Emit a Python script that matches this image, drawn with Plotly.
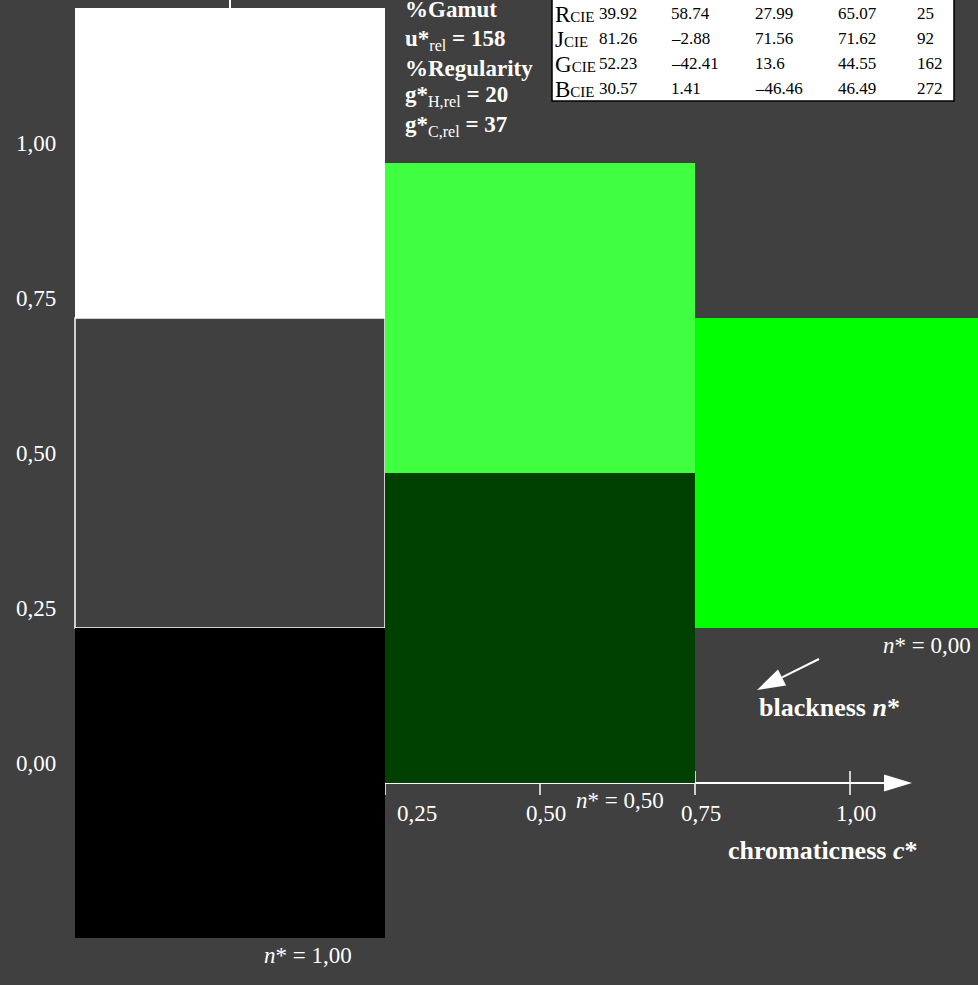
import plotly.graph_objects as go

# ---------------- data ----------------
# colour samples: chromaticness c*, vertical position, colour
cell_c = [0.0, 0.0, 0.0, 0.5, 0.5, 1.0]
cell_v = [1.0, 0.5, 0.0, 0.75, 0.25, 0.5]
cell_colors = ["#ffffff", "#404040", "#000000", "#40ff40", "#004000", "#00ff00"]
cell_size = 0.5

y_tick_vals = [0.0, 0.25, 0.5, 0.75, 1.0]
y_tick_text = ["0,00", "0,25", "0,50", "0,75", "1,00"]
x_tick_vals = [0.25, 0.5, 0.75, 1.0]
x_tick_text = ["0,25", "0,50", "0,75", "1,00"]

n_labels = ["<i>n</i>* = 1,00", "<i>n</i>* = 0,50", "<i>n</i>* = 0,00"]

table_rows = ["R", "J", "G", "B"]
table_L = [39.92, 81.26, 52.23, 30.57]
table_a = [58.74, -2.88, -42.41, 1.41]
table_b = [27.99, 71.56, 13.6, -46.46]
table_C = [65.07, 71.62, 44.55, 46.49]
table_h = [25, 92, 162, 272]

info_lines = [
    "<b>%Gamut</b>",
    "<b>u*</b><sub>rel</sub><b> = 158</b>",
    "<b>%Regularity</b>",
    "<b>g*</b><sub>H,rel</sub><b> = 20</b>",
    "<b>g*</b><sub>C,rel</sub><b> = 37</b>",
]

# ---------------- layout helpers ----------------
W, H = 978, 985
X0, Y0, S = 230.0, 783.0, 620.0  # pixel of origin and pixels per unit
BG = "#404040"
FONT = "Liberation Serif, Times New Roman, Times, serif"


def pc(px):
    return (px - X0) / S


def pv(py):
    return (Y0 - py) / S


def fmt(v):
    s = f"{v:g}"
    return s.replace("-", "\u2013")


fig = go.Figure()
fig.add_trace(go.Scatter(x=[None], y=[None], showlegend=False, hoverinfo="skip"))

shapes = []
# axes (below the colour cells)
shapes.append(dict(type="line", xref="x", yref="y", x0=0, x1=0, y0=-0.25, y1=pv(-20),
                   line=dict(color="white", width=2), layer="below"))
shapes.append(dict(type="line", xref="x", yref="y", x0=x_tick_vals[0], x1=pc(890), y0=0, y1=0,
                   line=dict(color="white", width=2), layer="below"))
for tv in x_tick_vals:
    shapes.append(dict(type="line", xref="x", yref="y", x0=tv, x1=tv, y0=pv(795), y1=pv(771),
                       line=dict(color="white", width=1.5), layer="below"))

# colour cells
for c, v, col in zip(cell_c, cell_v, cell_colors):
    outline = "white" if col.lower() == BG else col
    shapes.append(dict(type="rect", xref="x", yref="y",
                       x0=c - cell_size / 2, x1=c + cell_size / 2,
                       y0=v - cell_size / 2, y1=v + cell_size / 2,
                       fillcolor=col, line=dict(color=outline, width=1.5 if outline == "white" else 0),
                       layer="below"))

# axis arrowhead
tipx, tipy = 912, 783
shapes.append(dict(type="path", xref="x", yref="y",
                   path=f"M{pc(tipx)},{pv(tipy)} L{pc(tipx-28)},{pv(tipy-8.5)} L{pc(tipx-28)},{pv(tipy+8.5)} Z",
                   fillcolor="white", line=dict(color="white", width=0)))

# blackness arrow
tx, ty = 819, 659
hx, hy = 757, 690
dx, dy = hx - tx, hy - ty
ln = (dx * dx + dy * dy) ** 0.5
ux, uy = dx / ln, dy / ln
bx, by = hx - 28 * ux, hy - 28 * uy
px_, py_ = -uy, ux
shapes.append(dict(type="line", xref="x", yref="y", x0=pc(tx), y0=pv(ty), x1=pc(bx), y1=pv(by),
                   line=dict(color="white", width=2)))
shapes.append(dict(type="path", xref="x", yref="y",
                   path=(f"M{pc(hx)},{pv(hy)} L{pc(bx + 9*px_)},{pv(by + 9*py_)} "
                         f"L{pc(bx - 9*px_)},{pv(by - 9*py_)} Z"),
                   fillcolor="white", line=dict(color="white", width=0)))

# table box
shapes.append(dict(type="rect", xref="x", yref="y", x0=pc(552), x1=pc(954), y0=pv(101), y1=pv(-30),
                   fillcolor="white", line=dict(color="black", width=1.5)))

ann = []


def text(px, py, s, size=21, anchor="center", color="white"):
    ann.append(dict(x=pc(px), y=pv(py), xref="x", yref="y", text=s, showarrow=False,
                    xanchor=anchor, yanchor="middle",
                    font=dict(family=FONT, size=size, color=color)))


# y tick labels
for tv, tt in zip(y_tick_vals, y_tick_text):
    text(58, Y0 - tv * S - 20, tt, 23, "right")
# x tick labels
for i, (tv, tt) in enumerate(zip(x_tick_vals, x_tick_text)):
    off = 32 if i == 0 else 6
    text(X0 + tv * S + off, 813, tt, 23)

# n* labels
text(308, 955, n_labels[0], 23)
text(620, 800, n_labels[1], 23)
text(973, 645, n_labels[2], 23, "right")

text(829, 707, "<b>blackness <i>n</i>*</b>", 26)
text(822, 850, "<b>chromaticness <i>c</i>*</b>", 26)

# info text block
info_y = [9, 40, 68, 96, 126]
for py, s in zip(info_y, info_lines):
    text(403, py, s, 23, "left")

# table
row_y = [13, 38, 63, 88]
col_x = [597, 669, 753, 836, 915]
for r, name in enumerate(table_rows):
    text(553, row_y[r] + 1, f"{name}<span style='font-size:15px'>CIE</span>", 23, "left", "black")
    vals = [table_L[r], table_a[r], table_b[r], table_C[r], table_h[r]]
    for cx, v in zip(col_x, vals):
        text(cx, row_y[r], fmt(v), 17, "left", "black")

fig.update_layout(
    width=W, height=H, autosize=False,
    margin=dict(l=0, r=0, t=0, b=0, pad=0),
    paper_bgcolor=BG, plot_bgcolor=BG,
    xaxis=dict(range=[pc(0), pc(W)], visible=False, fixedrange=True),
    yaxis=dict(range=[pv(H), pv(0)], visible=False, fixedrange=True),
    shapes=shapes, annotations=ann, showlegend=False,
)

fig.write_html("out.html", config={"displayModeBar": False},
               post_script="document.body.style.margin='0';document.body.style.background='#404040';document.body.style.overflow='hidden';")
